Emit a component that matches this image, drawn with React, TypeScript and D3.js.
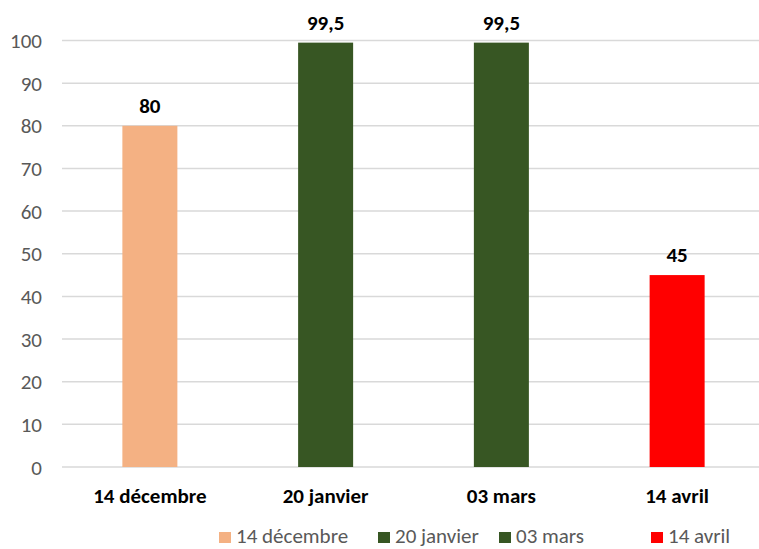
import React from 'react';
import * as d3 from 'd3';

const categories = ['14 décembre', '20 janvier', '03 mars', '14 avril'];
const values = [80, 99.5, 99.5, 45];
const barColors = ['#F4B183', '#375623', '#375623', '#FF0000'];
const yTicks = [0, 10, 20, 30, 40, 50, 60, 70, 80, 90, 100];

const W = 759;
const H = 549;
const FONT = "Carlito, Lato, 'Liberation Sans', sans-serif";

const App: React.FC = () => {
  const x = d3.scaleBand<string>().domain(categories).range([62, 765]).paddingInner(0.687).paddingOuter(0.3435);
  const y = d3.scaleLinear().domain([0, 100]).range([467, 40.5]);
  const fmt = (v: number) => String(v).replace('.', ',');

  // legend items placed left to right
  const legendX = [219, 378, 499, 651];

  return (
    <svg width={W} height={H} style={{ position: 'absolute', left: 0, top: 0, background: '#fff' }} fontFamily={FONT}>
      {yTicks.map((t) => (
        <g key={t}>
          <line x1={62} x2={W} y1={y(t)} y2={y(t)} stroke="#D9D9D9" strokeWidth={1.5} />
          <text x={42} y={y(t)} dy="0.36em" textAnchor="end" fontSize={21} fill="#595959">{t}</text>
        </g>
      ))}
      {categories.map((c, i) => (
        <g key={c}>
          <rect x={x(c)} y={y(values[i])} width={x.bandwidth()} height={y(0) - y(values[i])} fill={barColors[i]} />
          <text x={x(c)! + x.bandwidth() / 2} y={y(values[i]) - 13} textAnchor="middle" fontSize={21} fontWeight="bold" fill="#000">
            {fmt(values[i])}
          </text>
          <text x={x(c)! + x.bandwidth() / 2} y={503} textAnchor="middle" fontSize={21} fontWeight="bold" fill="#000">
            {c}
          </text>
        </g>
      ))}
      {categories.map((c, i) => (
        <g key={'lg' + c} transform={`translate(${legendX[i]},543)`}>
          <rect x={0} y={-11} width={12} height={11} fill={barColors[i]} />
          <text x={17} y={0} fontSize={21} fill="#595959">{c}</text>
        </g>
      ))}
    </svg>
  );
};

export default App;
